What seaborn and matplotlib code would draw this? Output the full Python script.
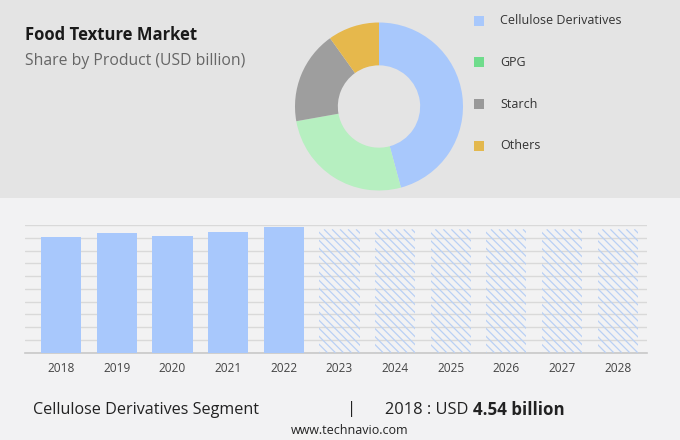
import matplotlib
matplotlib.use("Agg")
import matplotlib.pyplot as plt
import seaborn as sns
import pandas as pd
import numpy as np
from matplotlib.patches import Rectangle
from matplotlib.collections import LineCollection
from matplotlib.transforms import IdentityTransform

# ---- data ----
years = ["2018", "2019", "2020", "2021", "2022", "2023", "2024", "2025", "2026", "2027", "2028"]
values = [4.54, 4.70, 4.56, 4.72, 4.91, 4.83, 4.83, 4.83, 4.83, 4.83, 4.83]
forecast = [False, False, False, False, False, True, True, True, True, True, True]
segments = ["Cellulose Derivatives", "GPG", "Starch", "Others"]
shares = [45.8, 26.4, 17.9, 9.9]
slice_colors = ["#a8c8fc", "#b6efc0", "#9e9e9e", "#e6b84c"]
legend_colors = ["#a8c8fc", "#6fdc8c", "#999999", "#e3b84e"]

sns.set_theme(style="white")
plt.rcParams["font.family"] = ["Open Sans", "DejaVu Sans"]

W, H = 680, 440
fig = plt.figure(figsize=(6.8, 4.4), dpi=100, facecolor="#f2f2f3")

def px(x0, y0, w, h):
    return [x0 / W, 1 - (y0 + h) / H, w / W, h / H]

# grey top panel
fig.patches.append(Rectangle((0, 1 - 198 / H), 1, 198 / H, transform=fig.transFigure,
                             facecolor="#e4e4e4", edgecolor="none", zorder=-10))

# titles
fig.text(25 / W, 1 - 35 / H, "Food Texture Market", fontsize=12, fontweight="bold",
         color="#1a1a1a", va="center", ha="left")
fig.text(25 / W, 1 - 61 / H, "Share by Product (USD billion)", fontsize=11.3,
         color="#666666", va="center", ha="left")

# donut
R = 84
axp = fig.add_axes(px(379 - R, 106.5 - R, 2 * R, 2 * R))
axp.pie(shares, colors=slice_colors, startangle=90, counterclock=False,
        wedgeprops=dict(width=0.51, edgecolor="none"), radius=1)
axp.set_xlim(-1, 1)
axp.set_ylim(-1, 1)
axp.set_aspect("equal")
axp.axis("off")

# legend
for i, (lab, c) in enumerate(zip(segments, legend_colors)):
    y = 20.7 + i * 41.7
    fig.patches.append(Rectangle(((479 - 5) / W, 1 - (y + 5) / H), 10 / W, 10 / H,
                                 transform=fig.transFigure, facecolor=c, edgecolor="none"))
    fig.text(500 / W, 1 - y / H, lab, fontsize=9, color="#333333", va="center", ha="left")

# bar chart
df = pd.DataFrame({"year": years, "value": values, "forecast": forecast})
ax = fig.add_axes(px(25, 225, 646.7 - 25, 352.7 - 225))
ax.set_facecolor("none")
sns.barplot(data=df, x="year", y="value", color="#a8c8fc", width=0.72, saturation=1,
            ax=ax, zorder=3)
ax.set_xlim(-0.65, 10.52)
ax.set_ylim(0, 5)
ax.set_yticks([i * 0.5 for i in range(11)])
ax.set_yticklabels([])
ax.yaxis.grid(True, color="#d9d9d9", linewidth=1)
ax.set_axisbelow(True)
for s in ["top", "right", "left"]:
    ax.spines[s].set_visible(False)
ax.spines["bottom"].set_color("#c8c8c8")
ax.spines["bottom"].set_linewidth(1.2)
ax.tick_params(axis="y", length=0)
ax.tick_params(axis="x", length=0, pad=7, labelsize=8.6, labelcolor="#444444")
ax.set_xlabel("")
ax.set_ylabel("")

fig.canvas.draw()
# forecast bars: diagonal hatch lines clipped to each bar
bar_patches = list(ax.patches)
for patch, f in zip(bar_patches, df["forecast"]):
    patch.set_linewidth(0)
    if not f:
        continue
    patch.set_facecolor("none")
    bb = patch.get_window_extent()
    h = bb.y1 - bb.y0
    segs = []
    for x in np.arange(bb.x0 - h, bb.x1 + 8, 8.0):
        segs.append([(x, bb.y1), (x + h, bb.y0)])
    lc = LineCollection(segs, colors="#b9d0f5", linewidths=0.9,
                        transform=IdentityTransform(), zorder=3)
    ax.add_collection(lc, autolim=False)
    lc.set_clip_path(patch)

# footer
fig.text(33 / W, 1 - 410 / H, "Cellulose Derivatives Segment", fontsize=11.6,
         color="#222222", va="center", ha="left")
fig.text(352 / W, 1 - 409 / H, "|", fontsize=12, color="#222222", va="center", ha="center")
t = fig.text(385 / W, 1 - 410 / H, "2018 : USD ", fontsize=11.8, color="#222222",
             va="center", ha="left")
fig.canvas.draw()
bbt = t.get_window_extent()
fig.text(bbt.x1 / W, 1 - 410 / H, "4.54 billion", fontsize=12.2, fontweight="bold",
         color="#222222", va="center", ha="left")
fig.text(350 / W, 1 - 430 / H, "www.technavio.com", fontsize=9, color="#222222",
         va="center", ha="center")

fig.savefig("out.png", dpi=100, facecolor=fig.get_facecolor())
